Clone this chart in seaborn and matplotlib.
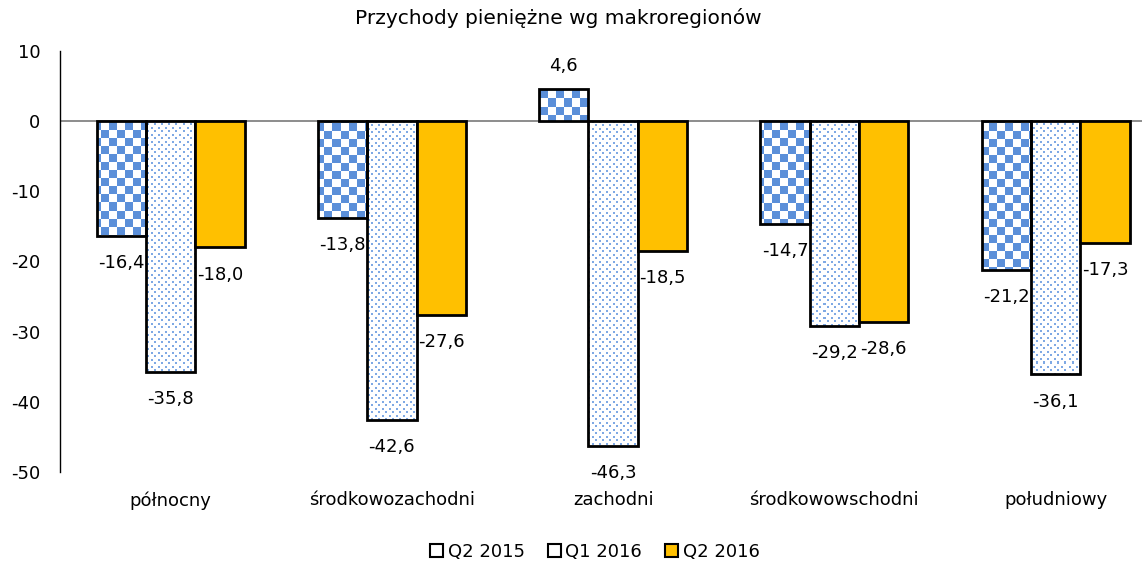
import numpy as np
import pandas as pd
import matplotlib
matplotlib.use("Agg")
import matplotlib.pyplot as plt
import seaborn as sns
from matplotlib.patches import Patch

# dane
regions = ["północny", "środkowozachodni", "zachodni", "środkowowschodni", "południowy"]
series = ["Q2 2015", "Q1 2016", "Q2 2016"]
q2_2015 = [-16.4, -13.8, 4.6, -14.7, -21.2]
q1_2016 = [-35.8, -42.6, -46.3, -29.2, -36.1]
q2_2016 = [-18.0, -27.6, -18.5, -28.6, -17.3]
yticks = [10, 0, -10, -20, -30, -40, -50]

df = pd.DataFrame({
    "region": regions * 3,
    "seria": [s for s in series for _ in regions],
    "wartosc": q2_2015 + q1_2016 + q2_2016,
})

sns.set_style("white")
plt.rcParams["font.family"] = ["DejaVu Sans"]
plt.rcParams["text.color"] = "black"
plt.rcParams["xtick.color"] = "black"
plt.rcParams["ytick.color"] = "black"

blue = "#5B8FD9"
orange = "#FFC000"

fig = plt.figure(figsize=(11.42, 5.71), dpi=100)
ax = fig.add_axes([60 / 1142, 1 - 472 / 571, 1 - 60 / 1142, (472 - 51) / 571])

sns.barplot(data=df, x="region", y="wartosc", hue="seria", order=regions,
            hue_order=series, width=0.67, palette=["white", "white", orange],
            saturation=1, legend=False, ax=ax, errorbar=None)

xlim = (-0.5, -0.5 + 1082 / 221.25)
ylim = (-50, 10)
ax.set_xlim(*xlim)
ax.set_ylim(*ylim)

# wzorki (szachownica i kropki) jako obrazki przycięte do słupków
h, w = 421, 1082
ii, jj = np.mgrid[0:h, 0:w]
checker = ((ii // 8 + jj // 8) % 2).astype(float)
dots = ((((ii % 7) < 2) & ((jj % 7) < 2)) |
        ((((ii + 4) % 7) < 2) & (((jj + 4) % 7) < 2))).astype(float)

cm_check = matplotlib.colors.ListedColormap(["white", blue])
cm_dots = matplotlib.colors.ListedColormap(["white", "#7FA9E4"])

for k, cont in enumerate(ax.containers):
    for bar in cont:
        bar.set_edgecolor("black")
        bar.set_linewidth(2.0)
        bar.set_zorder(3)
        if k < 2:
            bar.set_facecolor("none")
            img = ax.imshow(checker if k == 0 else dots,
                            cmap=cm_check if k == 0 else cm_dots,
                            extent=(xlim[0], xlim[1], ylim[0], ylim[1]),
                            aspect="auto", interpolation="nearest", zorder=2,
                            vmin=0, vmax=1)
            img.set_clip_path(bar)

# etykiety danych
for cont, vals in zip(ax.containers, [q2_2015, q1_2016, q2_2016]):
    for bar, v in zip(cont, vals):
        x = bar.get_x() + bar.get_width() / 2
        off = 16.5 if v > 0 else -19.5
        ax.annotate(f"{v:.1f}".replace(".", ","), (x, v), xytext=(0, off),
                    textcoords="offset points", ha="center", va="center",
                    fontsize=13, zorder=5)

ax.set_xlim(*xlim)
ax.set_ylim(*ylim)
ax.axhline(0, color="#8C8C8C", lw=1.4, zorder=1)
ax.set_yticks(yticks)
ax.set_yticklabels([str(t) for t in yticks], fontsize=13)
ax.tick_params(axis="y", length=0, pad=14)
ax.tick_params(axis="x", length=0, pad=14, labelsize=13)
ax.set_xlabel("")
ax.set_ylabel("")
for s in ["top", "right", "bottom"]:
    ax.spines[s].set_visible(False)
ax.spines["left"].set_color("black")
ax.spines["left"].set_linewidth(1.0)

fig.text(0.489, 1 - 18 / 571, "Przychody pieniężne wg makroregionów",
         ha="center", va="center", fontsize=14.5)

handles = [Patch(facecolor="white", edgecolor="black", linewidth=1.5),
           Patch(facecolor="white", edgecolor="black", linewidth=1.5),
           Patch(facecolor=orange, edgecolor="black", linewidth=1.5)]
fig.legend(handles, series, loc="center", bbox_to_anchor=(0.521, 1 - 552 / 571),
           ncol=3, frameon=False, fontsize=13, handlelength=0.7, handleheight=0.7,
           handletextpad=0.25, columnspacing=1.3)

plt.savefig("out.png", dpi=100)
